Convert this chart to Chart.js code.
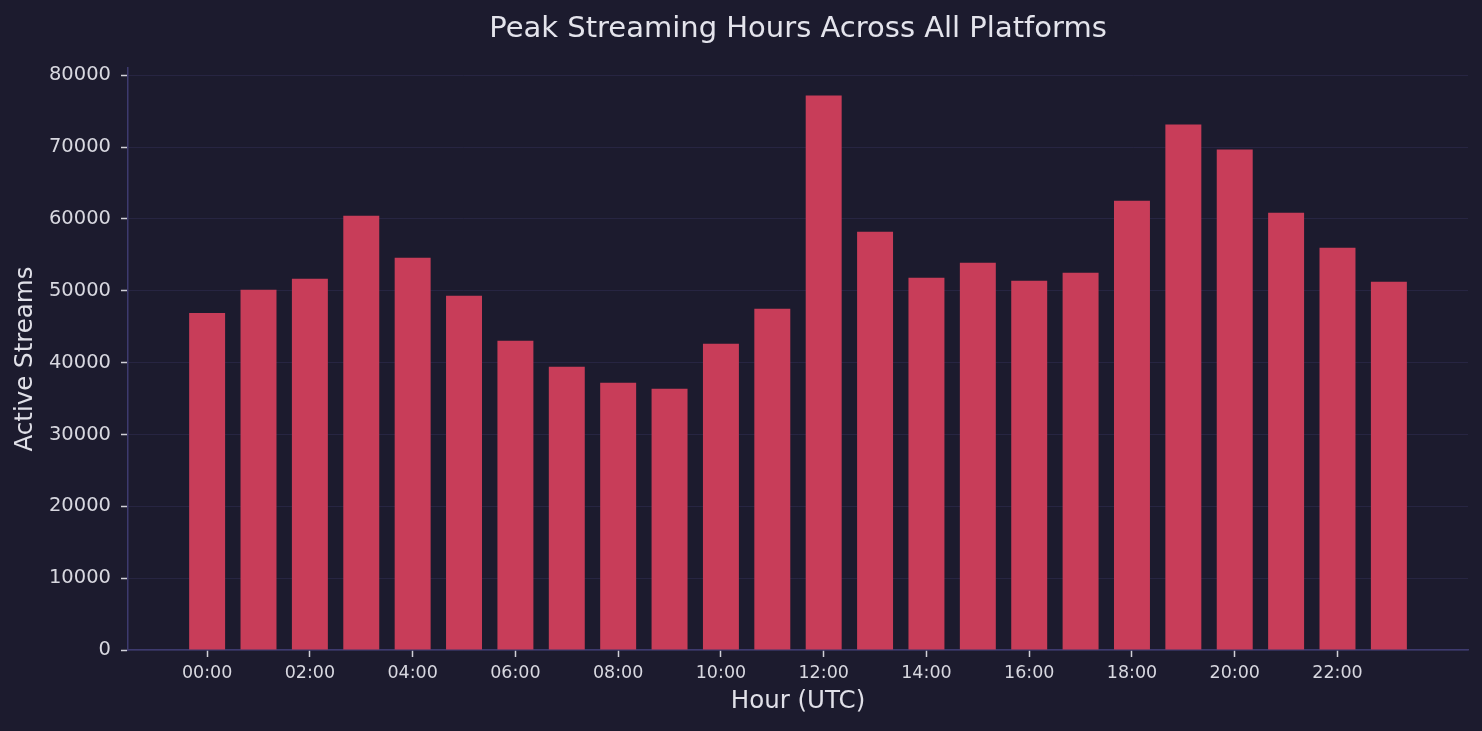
<!DOCTYPE html>
<html>
<head>
<meta charset="utf-8">
<script src="https://cdn.jsdelivr.net/npm/chart.js@4/dist/chart.umd.min.js"></script>
<style>
  html, body { margin: 0; padding: 0; background: #1c1b2e; }
  canvas { display: block; }
</style>
</head>
<body>
<canvas id="c" width="1482" height="731"></canvas>
<script>
// ---- data ----
const hours = ["00:00","01:00","02:00","03:00","04:00","05:00","06:00","07:00",
               "08:00","09:00","10:00","11:00","12:00","13:00","14:00","15:00",
               "16:00","17:00","18:00","19:00","20:00","21:00","22:00","23:00"];
const activeStreams = [46900, 50150, 51680, 60450, 54600, 49310, 43040, 39420,
                       37190, 36360, 42620, 47500, 77170, 58220, 51820, 53910,
                       51400, 52510, 62540, 73130, 69650, 60870, 56000, 51260];
const xTickLabels = ["00:00","02:00","04:00","06:00","08:00","10:00",
                     "12:00","14:00","16:00","18:00","20:00","22:00"];
const yTickValues = [0, 10000, 20000, 30000, 40000, 50000, 60000, 70000, 80000];
const chartTitle = 'Peak Streaming Hours Across All Platforms';

const FONT = "'DejaVu Sans', 'Liberation Sans', sans-serif";
const points = hours.map((h, i) => ({ x: i, y: activeStreams[i] }));

// title centred over the plot area (not the whole canvas)
const plotTitle = {
  id: 'plotTitle',
  afterDraw(chart) {
    const { ctx, chartArea } = chart;
    ctx.save();
    ctx.fillStyle = '#e4e4ec';
    ctx.font = "29px " + FONT;
    ctx.textAlign = 'center';
    ctx.textBaseline = 'alphabetic';
    ctx.fillText(chartTitle, (chartArea.left + chartArea.right) / 2, 37);
    ctx.restore();
  }
};

new Chart(document.getElementById('c'), {
  type: 'bar',
  data: {
    datasets: [{
      label: 'Active Streams',
      data: points,
      backgroundColor: 'rgb(200,61,89)',
      borderWidth: 0,
      categoryPercentage: 1.0,
      barPercentage: 0.7
    }]
  },
  plugins: [plotTitle],
  options: {
    responsive: false,
    animation: false,
    devicePixelRatio: 1,
    layout: { padding: { left: 0, right: 14, top: 68, bottom: 0 } },
    plugins: {
      legend: { display: false },
      tooltip: { enabled: false },
      title: { display: false }
    },
    scales: {
      x: {
        type: 'linear',
        offset: false,
        min: -1.54,
        max: 24.54,
        afterBuildTicks: (scale) => {
          scale.ticks = xTickLabels.map(l => ({ value: hours.indexOf(l) }));
        },
        afterFit: (scale) => { scale.height = 81; },
        ticks: {
          color: '#d8d8e0',
          font: { family: FONT, size: 17.5 },
          padding: 6,
          maxRotation: 0,
          autoSkip: false,
          callback: (v) => hours[v]
        },
        grid: {
          offset: false,
          drawOnChartArea: false,
          drawTicks: true,
          tickLength: 7,
          tickColor: '#d0d0d8',
          tickWidth: 1.5
        },
        border: { display: true, color: '#3d3a6e', width: 1.5 },
        title: {
          display: true,
          text: 'Hour (UTC)',
          color: '#e0e0e8',
          font: { family: FONT, size: 24.5, lineHeight: 1.2 },
          padding: { top: 0, bottom: 15 }
        }
      },
      y: {
        min: 0,
        max: 81000,
        z: 1,
        afterBuildTicks: (scale) => {
          scale.ticks = yTickValues.map(v => ({ value: v }));
        },
        afterFit: (scale) => { scale.width = 128; },
        ticks: {
          color: '#d8d8e0',
          font: { family: FONT, size: 19.5 },
          padding: 10,
          callback: (v) => String(v)
        },
        grid: {
          drawOnChartArea: true,
          color: 'rgba(70,65,120,0.28)',
          lineWidth: 1,
          drawTicks: true,
          tickLength: 7,
          tickColor: '#d0d0d8',
          tickWidth: 1.5
        },
        border: { display: true, color: '#3d3a6e', width: 1.5 },
        title: {
          display: true,
          text: 'Active Streams',
          color: '#e0e0e8',
          font: { family: FONT, size: 24.5, lineHeight: 1.2 },
          padding: { top: 11, bottom: 0 }
        }
      }
    }
  }
});
</script>
</body>
</html>
